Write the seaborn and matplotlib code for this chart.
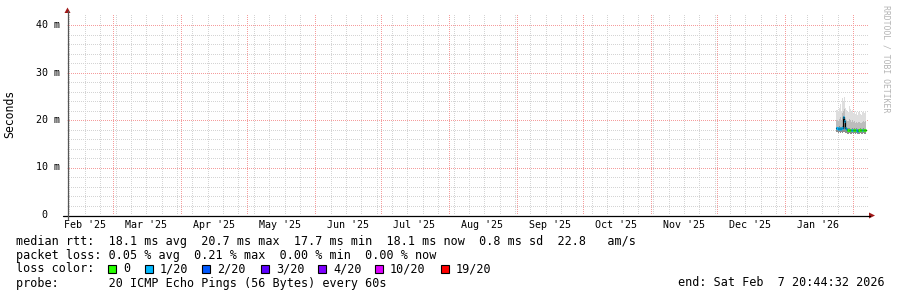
import numpy as np
import pandas as pd
import matplotlib
matplotlib.use("Agg")
import matplotlib.pyplot as plt
import matplotlib.dates as mdates
from matplotlib.lines import Line2D
from matplotlib.patches import Polygon, Rectangle
import seaborn as sns

# ---------------- data ----------------
t_start = pd.Timestamp("2025-02-07 20:44:32")
t_end = pd.Timestamp("2026-02-07 20:44:32")
times = pd.date_range("2026-01-24 12:00", periods=27, freq="12h")
median_ms = [18.3, 18.2, 18.3, 18.2, 18.3, 18.4, 20.7, 19.8, 18.3, 18.2, 18.0, 17.9, 17.9, 17.8,
             17.9, 17.8, 18.0, 17.8, 17.9, 17.7, 17.8, 17.9, 17.8, 17.8, 17.9, 17.8, 17.8]
loss_count = [1, 1, 1, 1, 1, 1, 1, 1, 1, 1, 0, 0, 0, 1, 1, 0, 0, 0, 1, 1, 0, 0, 0, 1, 0, 0, 0]
smoke_min = [17.4, 17.3, 17.5, 17.3, 17.4, 17.2, 17.5, 17.4, 17.3, 17.2, 17.1, 17.2, 17.1, 17.1,
             17.2, 17.1, 17.2, 17.1, 17.2, 17.0, 17.1, 17.2, 17.1, 17.1, 17.2, 17.1, 17.1]
smoke_q25 = [18.6, 18.5, 18.7, 18.6, 18.6, 18.8, 20.9, 20.2, 18.6, 18.5, 18.3, 18.3, 18.2, 18.2,
             18.3, 18.2, 18.4, 18.2, 18.3, 18.1, 18.2, 18.3, 18.2, 18.2, 18.3, 18.2, 18.2]
smoke_q75 = [20.0, 19.8, 20.2, 20.6, 20.0, 21.5, 22.0, 22.4, 20.3, 20.0, 19.7, 20.2, 20.0, 19.6,
             19.9, 19.5, 19.8, 19.4, 19.6, 19.3, 19.6, 19.4, 19.3, 19.6, 19.8, 19.5, 19.7]
smoke_max = [22.2, 21.8, 22.6, 23.4, 22.0, 24.6, 23.8, 24.9, 22.6, 22.1, 21.7, 22.9, 22.4, 21.6,
             22.2, 21.4, 21.9, 21.3, 21.6, 21.1, 21.7, 21.3, 21.0, 21.6, 21.9, 21.5, 21.8]

month_starts = pd.date_range("2025-03-01", "2026-02-01", freq="MS")
month_label_times = pd.date_range("2025-02-01", "2026-01-01", freq="MS") + pd.Timedelta(days=15)
month_labels = ["Feb '25", "Mar '25", "Apr '25", "May '25", "Jun '25", "Jul '25",
                "Aug '25", "Sep '25", "Oct '25", "Nov '25", "Dec '25", "Jan '26"]
week_lines = pd.date_range("2025-02-09", "2026-02-07", freq="7D")

y_major = [0, 10, 20, 30, 40]
y_major_labels = ["0  ", "10 m", "20 m", "30 m", "40 m"]
y_minor = [v for v in range(2, 42, 2) if v % 10 != 0]

loss_levels = [0, 1, 2, 3, 4, 10, 19]
loss_level_labels = ["0", "1/20", "2/20", "3/20", "4/20", "10/20", "19/20"]
loss_level_colors = ["#26ff00", "#00b8ff", "#0059ff", "#5e00ff", "#7e00ff", "#dd00ff", "#ff0000"]

legend_rtt = "median rtt:  18.1 ms avg  20.7 ms max  17.7 ms min  18.1 ms now  0.8 ms sd  22.8   am/s"
legend_loss = "packet loss: 0.05 % avg  0.21 % max  0.00 % min  0.00 % now"
legend_probe = "probe:       20 ICMP Echo Pings (56 Bytes) every 60s"
legend_end = "end: Sat Feb  7 20:44:32 2026"
watermark = "RRDTOOL / TOBI OETIKER"

# ---------------- style ----------------
sns.set_theme(style="white")
plt.rcParams["font.family"] = ["DejaVu Sans Mono", "DejaVu Sans"]
plt.rcParams["text.color"] = "black"
MONO = "DejaVu Sans Mono"

W, H = 897, 297
fig = plt.figure(figsize=(W / 100, H / 100), dpi=100, facecolor="white")

def fx(x):
    return x / W

def fy(y):
    return 1 - y / H

L, R, T, B = 67, 868, 14, 215
ax = fig.add_axes([fx(L), fy(B), (R - L) / W, (B - T) / H])
ax.set_facecolor("white")
for s in ax.spines.values():
    s.set_visible(False)

ymax = (B - T) / ((B - 25) / 40.0)
x0, x1 = mdates.date2num(t_start), mdates.date2num(t_end)
ax.set_ylim(0, ymax)
ax.set_xlim(x0, x1)

grid_minor = "#d4d4d4"
grid_major = "#f59c9c"
dot = (0.5, (1, 1))

# dotted grids
for v in y_minor:
    ax.axhline(v, color=grid_minor, linestyle=dot, linewidth=0.72, zorder=0.5)
wk = [w for w in week_lines if w.day != 1]
for w in mdates.date2num(wk):
    ax.axvline(w, color=grid_minor, linestyle=dot, linewidth=0.72, zorder=0.5)
for v in y_major[1:]:
    ax.axhline(v, color=grid_major, linestyle=dot, linewidth=0.72, zorder=0.6)
for m in mdates.date2num(month_starts):
    ax.axvline(m, color=grid_major, linestyle=dot, linewidth=0.72, zorder=0.6)

ax.set_yticks(y_major)
ax.set_yticks(y_minor, minor=True)
ax.set_yticklabels([])
ax.set_xticks(mdates.date2num(month_starts))
ax.set_xticks(mdates.date2num(wk), minor=True)
ax.set_xticklabels([])
ax.grid(False)
ax.tick_params(axis="both", which="major", length=3, width=0.72, color="#e88080", direction="inout")
ax.tick_params(axis="both", which="minor", length=2, width=0.72, color="#bcbcbc", direction="inout")

# tick labels as text
for yv, lab in zip(y_major, y_major_labels):
    ax.text(-7 / (R - L), yv, lab, transform=ax.get_yaxis_transform(), ha="right", va="center",
            fontsize=7.2, family=MONO, color="black")
for tl, lab in zip(month_label_times, month_labels):
    ax.text(mdates.date2num(tl), -5 / (B - T), lab, transform=ax.get_xaxis_transform(),
            ha="center", va="top", fontsize=7.2, family=MONO, color="black")

# ---------------- smoke + median ----------------
step = pd.Timedelta(hours=12)
edges = list(times) + [times[-1] + step]
def ext(a):
    return list(a) + [a[-1]]
xe = mdates.date2num(edges)
ax.fill_between(xe, ext(smoke_q75), ext(smoke_max), step="post", color="#dedede", lw=0, zorder=2)
ax.fill_between(xe, ext(smoke_q25), ext(smoke_q75), step="post", color="#bcbcbc", lw=0, zorder=2)
ax.fill_between(xe, ext(smoke_min), ext(smoke_q25), step="post", color="#8e8e8e", lw=0, zorder=2)

df = pd.DataFrame({"t": xe, "median": ext(median_ms)})
sns.lineplot(data=df, x="t", y="median", ax=ax, color="black", linewidth=0.9,
             drawstyle="steps-post", zorder=3, legend=False)
ax.set_xlabel("")
ax.set_ylabel("")

def loss_color(n):
    c = loss_level_colors[0]
    for lv, col in zip(loss_levels, loss_level_colors):
        if n >= lv:
            c = col
    return c

for i in range(len(times)):
    ax.hlines(median_ms[i], xe[i], xe[i + 1], colors=loss_color(loss_count[i]),
              linewidth=2.2, zorder=4, capstyle="butt")

ax.set_xlim(x0, x1)
ax.set_ylim(0, ymax)

# ---------------- axes lines & arrows ----------------
fig.add_artist(Line2D([fx(63), fx(870)], [fy(215.5), fy(215.5)], color="black", lw=0.9))
fig.add_artist(Line2D([fx(67.5), fx(67.5)], [fy(219), fy(11)], color="#555555", lw=0.9))
arrow_col = "#a01818"
fig.add_artist(Polygon([(fx(64.5), fy(13)), (fx(70.5), fy(13)), (fx(67.5), fy(7.5))],
                       closed=True, color=arrow_col, lw=0, transform=fig.transFigure))
fig.add_artist(Polygon([(fx(869), fy(212.5)), (fx(869), fy(218.5)), (fx(875), fy(215.5))],
                       closed=True, color=arrow_col, lw=0, transform=fig.transFigure))

# ---------------- labels ----------------
fig.text(fx(10), fy(114), "Seconds", rotation=90, ha="center", va="center",
         fontsize=8.3, family=MONO, color="black")
fig.text(fx(886), fy(5), watermark, rotation=-90, ha="center", va="top",
         fontsize=5.9, family=MONO, color="#b4b4b4")

LEG = 8.5
fig.text(fx(16), fy(241), legend_rtt, ha="left", va="center", fontsize=LEG, family=MONO, color="black")
fig.text(fx(16), fy(255), legend_loss, ha="left", va="center", fontsize=LEG, family=MONO, color="black")
fig.text(fx(16), fy(269), "loss color:", ha="left", va="center", fontsize=LEG, family=MONO, color="black")
fig.text(fx(16), fy(283), legend_probe, ha="left", va="center", fontsize=LEG, family=MONO, color="black")
fig.text(fx(678), fy(283), legend_end, ha="left", va="center", fontsize=LEG, family=MONO, color="black")

label_x = [123, 160, 217, 276, 333, 390, 456]
for lx, lab, col in zip(label_x, loss_level_labels, loss_level_colors):
    bx = lx - 15
    fig.add_artist(Rectangle((fx(bx), fy(273)), 8 / W, 8 / H, facecolor=col, edgecolor="black",
                             lw=0.8, transform=fig.transFigure))
    fig.text(fx(lx), fy(269), lab, ha="left", va="center", fontsize=LEG, family=MONO, color="black")

fig.savefig("out.png", dpi=100, facecolor="white")
